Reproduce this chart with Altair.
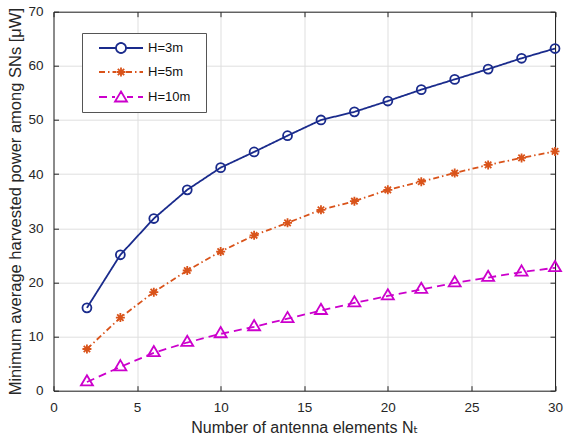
import math
import altair as alt
import pandas as pd

nt = [2, 4, 6, 8, 10, 12, 14, 16, 18, 20, 22, 24, 26, 28, 30]
h3 = [15.3, 25.1, 31.8, 37.1, 41.2, 44.1, 47.1, 50.0, 51.5, 53.5, 55.6, 57.5, 59.4, 61.4, 63.2]
h5 = [7.7, 13.5, 18.2, 22.2, 25.7, 28.7, 31.0, 33.4, 35.0, 37.1, 38.6, 40.2, 41.7, 43.0, 44.2]
h10 = [1.6, 4.4, 7.0, 8.9, 10.5, 11.8, 13.3, 14.8, 16.2, 17.5, 18.7, 19.9, 20.9, 21.9, 22.7]
names = ["H=3m", "H=5m", "H=10m"]
colors = ["#1a2b8c", "#d9531a", "#cc00cc"]
dashes = [[1, 0], [6, 3, 1.5, 3], [8, 5]]
x_ticks = [0, 5, 10, 15, 20, 25, 30]
y_ticks = [0, 10, 20, 30, 40, 50, 60, 70]

rows = []
for name, vals in zip(names, [h3, h5, h10]):
    for x, v in zip(nt, vals):
        rows.append({"Nt": x, "P": v, "series": name})
df = pd.DataFrame(rows)

FONT = "Liberation Sans, Arial, DejaVu Sans, sans-serif"
INK = "#262626"

# ---------- legend symbol paths (styling geometry only) ----------
U = 8.0  # px per unit for legend symbol size 256


def px(p):
    return (p - 8.0) / U


def segs(pattern, lo=0.0, hi=44.0, skip=(17.0, 27.0)):
    out = []
    p = lo
    i = 0
    while p < hi:
        ln = pattern[i % len(pattern)]
        on = (i % 2 == 0)
        a, b = p, min(p + ln, hi)
        if on:
            parts = []
            if b <= skip[0] or a >= skip[1]:
                parts = [(a, b)]
            else:
                if a < skip[0]:
                    parts.append((a, skip[0]))
                if b > skip[1]:
                    parts.append((skip[1], b))
            for s, e in parts:
                if e - s < 0.8:
                    e = s + 0.8
                out.append("M%.3f,0L%.3f,0" % (px(s), px(e)))
        p += ln
        i += 1
    return "".join(out)


def circle_path(cx, r, n=24):
    pts = []
    for k in range(n):
        t = 2 * math.pi * k / n
        pts.append("%.3f,%.3f" % (px(cx + r * math.cos(t)), r * math.sin(t) / U))
    return "M" + "L".join(pts) + "Z"


c = 22.0
p3 = segs([44, 0], skip=(c - 5, c + 5)) + circle_path(c, 5)
ast = 4.5
d = ast * 0.71
p5 = segs([6, 3, 1.5, 3], skip=(c - 5, c + 5)) + (
    "M%.3f,0L%.3f,0M%.3f,%.3fL%.3f,%.3fM%.3f,%.3fL%.3f,%.3fM%.3f,%.3fL%.3f,%.3f" % (
        px(c - ast), px(c + ast),
        px(c), -ast / U, px(c), ast / U,
        px(c - d), -d / U, px(c + d), d / U,
        px(c - d), d / U, px(c + d), -d / U))
p10 = segs([8, 5], skip=(c - 6, c + 6)) + "M%.3f,%.3fL%.3f,%.3fL%.3f,%.3fZ" % (
    px(c), -5.5 / U, px(c + 6), 4.5 / U, px(c - 6), 4.5 / U)

legend = alt.Legend(
    orient="none", legendX=28.5, legendY=21.3, title=None,
    strokeColor="#555555", fillColor="white", padding=6,
    symbolSize=256, symbolStrokeWidth=1.8, symbolOffset=10,
    symbolOpacity=1, symbolFillColor="transparent",
    labelOffset=32, labelFontSize=13, labelFont=FONT, labelColor="#111111",
    rowPadding=6,
    labelExpr="datum.label + '\u2800'",
)

xs = alt.Scale(domain=[0, 30], nice=False, zero=False)
ys = alt.Scale(domain=[0, 70], nice=False)
cscale = alt.Scale(domain=names, range=colors)

x_axis = alt.Axis(
    values=x_ticks, title="Number of antenna elements Nₜ", grid=True,
    gridColor="#dfdfdf", gridWidth=1, domainColor=INK, tickColor=INK,
    tickSize={"expr": "-5"}, labelPadding=15, labelFontSize=13.5, labelFont=FONT, labelColor=INK,
    titleFontSize=16, titleFont=FONT, titleColor=INK, titleFontWeight="normal",
    titlePadding=5, labelFlush=False,
)
y_axis = alt.Axis(
    values=y_ticks, title="Minimum average harvested power among SNs [μW]", grid=True,
    gridColor="#dfdfdf", gridWidth=1, domainColor=INK, tickColor=INK,
    tickSize={"expr": "-5"}, labelPadding=15.5, labelFontSize=13.5, labelFont=FONT, labelColor=INK,
    titleFontSize=16.5, titleFont=FONT, titleColor=INK, titleFontWeight="normal",
    titlePadding=4, labelFlush=False,
)

base = alt.Chart(df)

shapes = {
    "H=3m": ("circle", 80),
    "H=5m": ("M-1,0L1,0M0,-1L0,1M-0.71,-0.71L0.71,0.71M-0.71,0.71L0.71,-0.71", 81),
    "H=10m": ("M0,-1.13L1,0.57L-1,0.57Z", 144),
}

layers = []
for i, name in enumerate(names):
    sub = base.transform_filter(alt.datum.series == name)
    first = (i == 0)
    layers.append(
        sub.mark_line(strokeWidth=1.8, color=colors[i], strokeDash=dashes[i]).encode(
            x=alt.X("Nt:Q", scale=xs, axis=x_axis if first else None),
            y=alt.Y("P:Q", scale=ys, axis=y_axis if first else None),
        )
    )
for i, name in enumerate(names):
    shp, sz = shapes[name]
    layers.append(
        base.transform_filter(alt.datum.series == name).mark_point(
            shape=shp, size=sz, filled=False, strokeWidth=1.8, opacity=1, color=colors[i]
        ).encode(
            x=alt.X("Nt:Q", scale=xs, axis=None),
            y=alt.Y("P:Q", scale=ys, axis=None),
        )
    )

# legend-only layer (no data drawn): symbols show line style + marker
legend_layer = base.transform_filter("false").mark_point(
    filled=False, strokeWidth=1.8, opacity=1
).encode(
    x=alt.X("Nt:Q", scale=xs, axis=None),
    y=alt.Y("P:Q", scale=ys, axis=None),
    color=alt.Color("series:N", scale=cscale, legend=legend),
    shape=alt.Shape("series:N", scale=alt.Scale(domain=names, range=[p3, p5, p10]), legend=legend),
)

frame = base.mark_point(opacity=0).encode(
    x=alt.X("Nt:Q", scale=xs, axis=alt.Axis(
        orient="top", values=x_ticks, labels=False, title=None, grid=False,
        domainColor=INK, tickColor=INK, tickSize={"expr": "-5"})),
    y=alt.Y("P:Q", scale=ys, axis=alt.Axis(
        orient="right", values=y_ticks, labels=False, title=None, grid=False,
        domainColor=INK, tickColor=INK, tickSize={"expr": "-5"})),
)

chart = alt.layer(*layers, legend_layer, frame).resolve_axis(
    x="independent", y="independent"
).properties(
    width=501.5, height=379,
    autosize=alt.AutoSizeParams(type="none"),
    padding={"left": 53.5, "top": 11.7, "right": 10, "bottom": 49.3},
    background="white",
).configure_view(stroke=None)

chart.save("out.html", embed_options={"renderer": "svg", "actions": False})
